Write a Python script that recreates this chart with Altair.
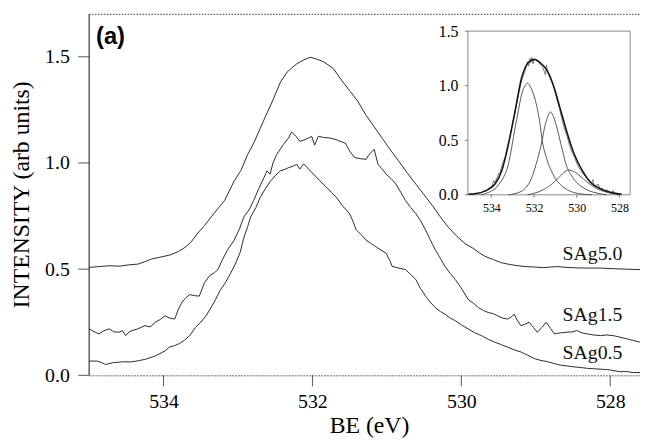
import altair as alt
import pandas as pd

SERIF = "Liberation Serif"
SANS = "Liberation Sans"

# ---------------- main panel data (BE eV, intensity) ----------------
SAG50 = [
    (535.00, 0.508), (534.87, 0.512), (534.73, 0.516), (534.60, 0.514), (534.47, 0.520),
    (534.34, 0.524), (534.25, 0.535), (534.16, 0.548), (534.05, 0.556), (533.92, 0.566),
    (533.80, 0.583), (533.70, 0.605), (533.63, 0.628), (533.54, 0.670), (533.45, 0.705),
    (533.36, 0.746), (533.27, 0.785), (533.18, 0.823), (533.05, 0.916), (532.96, 0.965),
    (532.87, 1.040), (532.78, 1.100), (532.70, 1.164), (532.63, 1.220), (532.56, 1.273),
    (532.49, 1.330), (532.43, 1.381), (532.34, 1.428), (532.27, 1.450), (532.21, 1.467),
    (532.12, 1.485), (532.03, 1.498), (531.95, 1.490), (531.86, 1.478), (531.78, 1.460),
    (531.72, 1.445), (531.61, 1.390), (531.50, 1.340), (531.39, 1.290), (531.28, 1.225),
    (531.17, 1.170), (531.06, 1.115), (530.95, 1.060), (530.84, 1.008), (530.72, 0.950),
    (530.61, 0.900), (530.50, 0.850), (530.39, 0.800), (530.28, 0.745), (530.17, 0.695),
    (530.06, 0.655), (529.95, 0.620), (529.85, 0.600), (529.75, 0.575), (529.68, 0.560),
    (529.57, 0.545), (529.46, 0.530), (529.35, 0.522), (529.24, 0.516), (529.13, 0.512),
    (529.02, 0.510), (528.90, 0.507), (528.80, 0.510), (528.70, 0.512), (528.58, 0.508),
    (528.45, 0.506), (528.30, 0.505), (528.13, 0.505), (527.95, 0.502), (527.80, 0.500),
    (527.60, 0.498),
]

SAG15 = [
    (535.00, 0.219), (534.93, 0.205), (534.87, 0.195), (534.80, 0.210), (534.73, 0.219),
    (534.67, 0.205), (534.60, 0.203), (534.55, 0.210), (534.51, 0.187), (534.46, 0.205),
    (534.42, 0.211), (534.35, 0.218), (534.25, 0.234), (534.18, 0.228), (534.11, 0.250),
    (534.05, 0.262), (533.98, 0.280), (533.92, 0.270), (533.85, 0.265), (533.80, 0.312),
    (533.75, 0.345), (533.70, 0.365), (533.65, 0.380), (533.58, 0.375), (533.52, 0.373),
    (533.45, 0.436), (533.38, 0.470), (533.32, 0.482), (533.27, 0.498), (533.21, 0.544),
    (533.14, 0.591), (533.05, 0.637), (532.98, 0.690), (532.92, 0.746), (532.85, 0.780),
    (532.79, 0.823), (532.72, 0.880), (532.65, 0.932), (532.61, 0.963), (532.57, 0.947),
    (532.53, 1.000), (532.48, 1.040), (532.39, 1.087), (532.32, 1.118), (532.28, 1.146),
    (532.22, 1.125), (532.17, 1.102), (532.10, 1.110), (532.05, 1.118), (532.01, 1.125),
    (531.97, 1.084), (531.92, 1.126), (531.85, 1.120), (531.77, 1.118), (531.68, 1.110),
    (531.63, 1.102), (531.56, 1.094), (531.50, 1.056), (531.43, 1.025), (531.35, 1.020),
    (531.28, 1.017), (531.24, 1.040), (531.17, 1.064), (531.12, 0.994), (531.06, 0.970),
    (531.01, 0.947), (530.94, 0.925), (530.88, 0.901), (530.81, 0.860), (530.75, 0.823),
    (530.68, 0.790), (530.61, 0.761), (530.55, 0.730), (530.48, 0.684), (530.42, 0.640),
    (530.35, 0.591), (530.28, 0.550), (530.22, 0.513), (530.15, 0.480), (530.08, 0.451),
    (529.99, 0.405), (529.91, 0.358), (529.84, 0.340), (529.77, 0.319), (529.70, 0.305),
    (529.64, 0.296), (529.57, 0.290), (529.51, 0.280), (529.45, 0.270), (529.38, 0.265),
    (529.33, 0.275), (529.29, 0.288), (529.25, 0.260), (529.20, 0.234), (529.15, 0.240),
    (529.09, 0.250), (529.03, 0.225), (528.98, 0.203), (528.92, 0.225), (528.86, 0.250),
    (528.80, 0.220), (528.75, 0.195), (528.67, 0.200), (528.58, 0.203), (528.50, 0.205),
    (528.45, 0.211), (528.38, 0.200), (528.31, 0.195), (528.22, 0.190), (528.13, 0.187),
    (528.05, 0.190), (527.96, 0.187), (527.87, 0.180), (527.78, 0.172), (527.70, 0.165),
    (527.60, 0.156),
]

SAG05 = [
    (535.00, 0.067), (534.89, 0.067), (534.83, 0.060), (534.78, 0.051), (534.72, 0.056),
    (534.67, 0.060), (534.60, 0.062), (534.54, 0.064), (534.45, 0.063), (534.38, 0.066),
    (534.32, 0.070), (534.25, 0.075), (534.19, 0.082), (534.12, 0.090), (534.05, 0.102),
    (533.98, 0.115), (533.92, 0.133), (533.85, 0.140), (533.79, 0.149), (533.72, 0.165),
    (533.65, 0.187), (533.57, 0.226), (533.50, 0.250), (533.43, 0.280), (533.36, 0.320),
    (533.30, 0.358), (533.24, 0.400), (533.17, 0.436), (533.10, 0.480), (533.03, 0.529),
    (532.97, 0.580), (532.92, 0.650), (532.87, 0.700), (532.83, 0.746), (532.76, 0.790),
    (532.70, 0.839), (532.63, 0.880), (532.56, 0.916), (532.50, 0.940), (532.43, 0.963),
    (532.37, 0.970), (532.32, 0.978), (532.26, 0.985), (532.21, 0.994), (532.17, 0.971),
    (532.12, 0.996), (532.06, 0.975), (532.01, 0.955), (531.95, 0.935), (531.90, 0.916),
    (531.81, 0.885), (531.74, 0.860), (531.68, 0.839), (531.60, 0.800), (531.50, 0.761),
    (531.45, 0.720), (531.41, 0.684), (531.34, 0.660), (531.28, 0.637), (531.21, 0.620),
    (531.15, 0.606), (531.08, 0.590), (531.01, 0.575), (530.96, 0.540), (530.93, 0.513),
    (530.84, 0.505), (530.75, 0.498), (530.68, 0.475), (530.61, 0.451), (530.55, 0.410),
    (530.48, 0.373), (530.42, 0.345), (530.35, 0.319), (530.28, 0.300), (530.22, 0.288),
    (530.15, 0.270), (530.08, 0.257), (530.00, 0.238), (529.91, 0.219), (529.82, 0.200),
    (529.73, 0.187), (529.64, 0.170), (529.55, 0.156), (529.46, 0.144), (529.38, 0.133),
    (529.29, 0.120), (529.20, 0.110), (529.11, 0.095), (529.02, 0.079), (528.93, 0.070),
    (528.84, 0.064), (528.75, 0.055), (528.67, 0.048), (528.58, 0.044), (528.49, 0.040),
    (528.40, 0.037), (528.31, 0.033), (528.22, 0.031), (528.13, 0.029), (528.05, 0.027),
    (528.00, 0.025), (527.87, 0.017), (527.78, 0.018), (527.69, 0.013), (527.60, 0.013),
]

LABELS = ["SAg5.0", "SAg1.5", "SAg0.5"]
LABEL_BE = [528.64, 528.64, 528.64]
LABEL_I = [0.541, 0.254, 0.079]
PANEL_LABEL = ["(a)"]

MAIN_X_DOMAIN = [535.0, 527.6]
MAIN_Y_DOMAIN = [0.0, 1.7]
MAIN_X_TICKS = [534, 532, 530, 528]
MAIN_Y_TICKS = [0.0, 0.5, 1.0, 1.5]

# ---------------- inset data ----------------
INSET_X_DOMAIN = [535.1, 527.5]
INSET_Y_DOMAIN = [0.0, 1.5]
INSET_X_TICKS = [534, 532, 530, 528]
INSET_Y_TICKS = [0.0, 0.5, 1.0, 1.5]

INSET_RAW = [
    (535.05, 0.00), (534.95, 0.01), (534.85, 0.00), (534.75, 0.015), (534.65, 0.01),
    (534.55, 0.02), (534.45, 0.02), (534.35, 0.04), (534.25, 0.035), (534.15, 0.06),
    (534.05, 0.065), (533.95, 0.09), (533.90, 0.13), (533.85, 0.11), (533.75, 0.15),
    (533.65, 0.20), (533.60, 0.19), (533.55, 0.24), (533.45, 0.30), (533.35, 0.35),
    (533.25, 0.44), (533.15, 0.52), (533.05, 0.62), (532.95, 0.71), (532.85, 0.80),
    (532.75, 0.90), (532.65, 0.99), (532.55, 1.07), (532.45, 1.12), (532.38, 1.17),
    (532.30, 1.22), (532.25, 1.18), (532.20, 1.25), (532.15, 1.21), (532.10, 1.26),
    (532.05, 1.20), (532.00, 1.25), (531.90, 1.23), (531.80, 1.22), (531.70, 1.19),
    (531.60, 1.17), (531.52, 1.13), (531.47, 1.10), (531.42, 1.19), (531.37, 1.12),
    (531.30, 1.10), (531.20, 1.05), (531.10, 1.00), (531.00, 0.93), (530.90, 0.85),
    (530.80, 0.78), (530.70, 0.70), (530.60, 0.62), (530.50, 0.56), (530.40, 0.50),
    (530.30, 0.43), (530.20, 0.38), (530.10, 0.34), (530.00, 0.29), (529.90, 0.25),
    (529.80, 0.22), (529.70, 0.19), (529.60, 0.17), (529.50, 0.14), (529.40, 0.13),
    (529.30, 0.11), (529.25, 0.14), (529.20, 0.09), (529.10, 0.08), (529.00, 0.10),
    (528.90, 0.05), (528.80, 0.06), (528.70, 0.03), (528.60, 0.05), (528.50, 0.03),
    (528.40, 0.01), (528.30, 0.04), (528.20, 0.01), (528.10, 0.00),
]

INSET_ENVELOPE = [
    (535.08, 0.005), (534.70, 0.012), (534.43, 0.025), (534.10, 0.055), (533.82, 0.101),
    (533.51, 0.222), (533.20, 0.464), (532.89, 0.766), (532.59, 1.068), (532.43, 1.160),
    (532.28, 1.210), (532.10, 1.235), (531.95, 1.240), (531.82, 1.228), (531.60, 1.190),
    (531.36, 1.129), (531.20, 1.060), (531.05, 0.977), (530.74, 0.766), (530.43, 0.555),
    (530.12, 0.374), (529.74, 0.222), (529.36, 0.116), (528.90, 0.056), (528.28, 0.016),
    (527.90, 0.005),
]

INSET_G1 = [
    (534.50, 0.000), (534.28, 0.011), (534.05, 0.030), (533.82, 0.056), (533.60, 0.110),
    (533.43, 0.161), (533.20, 0.283), (533.05, 0.433), (532.89, 0.615), (532.74, 0.766),
    (532.59, 0.917), (532.45, 0.990), (532.31, 1.023), (532.15, 0.980), (531.97, 0.887),
    (531.85, 0.790), (531.74, 0.675), (531.59, 0.464), (531.45, 0.360), (531.36, 0.300),
    (531.20, 0.225), (531.05, 0.165), (530.80, 0.100), (530.59, 0.065), (530.30, 0.032),
    (529.97, 0.014), (529.60, 0.004), (529.30, 0.000),
]

INSET_G2 = [
    (533.20, 0.000), (532.89, 0.011), (532.43, 0.056), (532.13, 0.147), (531.90, 0.283),
    (531.66, 0.464), (531.51, 0.615), (531.37, 0.710), (531.23, 0.760), (531.10, 0.720),
    (530.97, 0.645), (530.74, 0.464), (530.51, 0.283), (530.20, 0.161), (529.74, 0.071),
    (529.40, 0.035), (529.05, 0.016), (528.60, 0.000),
]

INSET_G3 = [
    (532.30, 0.000), (531.82, 0.025), (531.36, 0.071), (530.89, 0.147), (530.60, 0.205),
    (530.38, 0.228), (530.15, 0.215), (529.97, 0.192), (529.51, 0.116), (529.05, 0.056),
    (528.43, 0.016), (528.00, 0.000),
]

# ---------------- layout ----------------
W, H = 557, 365
INSET_LEFT, INSET_RIGHT = 383, 547
INSET_BOTTOM, INSET_TOP = 182.5, 17
MAIN_TICK = 11
INSET_TICK = 3


def frame(name, pairs):
    return pd.DataFrame({
        "series": name,
        "be": [p[0] for p in pairs],
        "i": [p[1] for p in pairs],
    })


main_df = pd.concat([
    frame("SAg5.0", SAG50),
    frame("SAg1.5", SAG15),
    frame("SAg0.5", SAG05),
], ignore_index=True)

labels_df = pd.DataFrame({"text": LABELS, "be": LABEL_BE, "i": LABEL_I})

mx = alt.X(
    "be:Q",
    scale=alt.Scale(domain=MAIN_X_DOMAIN, zero=False, nice=False),
    axis=alt.Axis(
        orient="bottom", values=MAIN_X_TICKS, format="d", grid=False,
        tickSize=MAIN_TICK, tickOpacity=0, labelPadding=6,
        labelFont=SERIF, labelFontSize=20, labelColor="black",
        domainColor="dimgray", domainWidth=1, domainDash=[2, 1],
        title="BE (eV)", titleFont=SERIF, titleFontSize=24, titleFontWeight="normal",
        titleColor="black", titleX=283, titleY=58, titleBaseline="alphabetic",
        titleAlign="center",
    ),
)
my = alt.Y(
    "i:Q",
    scale=alt.Scale(domain=MAIN_Y_DOMAIN, zero=False, nice=False),
    axis=alt.Axis(
        orient="left", values=MAIN_Y_TICKS, format=".1f", grid=False,
        tickSize=MAIN_TICK, tickOpacity=0, labelPadding=9,
        labelFont=SERIF, labelFontSize=20, labelColor="black",
        domainOpacity=0,
        title="INTENSITY (arb units)", titleFont=SERIF, titleFontSize=24,
        titleFontWeight="normal", titleColor="black", titleAngle=270,
        titleX=-68, titleY=182, titleBaseline="middle", titleAlign="center",
    ),
)

curves = alt.Chart(main_df).mark_line(color="#2a2a2a", strokeWidth=1).encode(
    x=mx, y=my, detail="series:N"
)
curve_labels = alt.Chart(labels_df).mark_text(
    align="left", baseline="alphabetic", font=SERIF, fontSize=20, color="#111"
).encode(x=mx, y=my, text="text:N")

# tick marks and left axis line drawn as rect-based marks through the scales
y_ticks = alt.Chart(pd.DataFrame({"i": MAIN_Y_TICKS})).mark_tick(
    orient="horizontal", size=MAIN_TICK, thickness=1, color="#555", opacity=1
).encode(y=my, x=alt.value(-MAIN_TICK / 2))
x_ticks = alt.Chart(pd.DataFrame({"be": MAIN_X_TICKS})).mark_tick(
    orient="vertical", size=MAIN_TICK, thickness=1, color="#555", opacity=1
).encode(x=mx, y=alt.value(H + MAIN_TICK / 2))
y_axis_line = alt.Chart(pd.DataFrame({"k": [0]})).mark_rect(color="#222").encode(
    x=alt.value(-0.5), x2=alt.value(0.6), y=alt.value(0), y2=alt.value(H)
)

top_border = alt.Chart(pd.DataFrame({"k": [0]})).mark_rule(
    color="#333", strokeDash=[1.5, 1.5], strokeWidth=1
).encode(x=alt.value(0), x2=alt.value(W), y=alt.value(0))

panel_label = alt.Chart(pd.DataFrame({"t": PANEL_LABEL})).mark_text(
    align="left", baseline="alphabetic", font=SANS, fontSize=24,
    fontWeight="bold", color="#000"
).encode(x=alt.value(7), y=alt.value(30.5), text="t:N")

main = alt.layer(curves, curve_labels, y_ticks, x_ticks, y_axis_line,
                 top_border, panel_label)

# ---------------- inset ----------------
ix = alt.X(
    "be:Q",
    scale=alt.Scale(domain=INSET_X_DOMAIN, range=[INSET_LEFT, INSET_RIGHT],
                    zero=False, nice=False),
    axis=alt.Axis(
        orient="bottom", offset=-(H - INSET_BOTTOM), values=INSET_X_TICKS,
        format="d", grid=False, tickSize=INSET_TICK, tickOpacity=0,
        labelPadding=5, labelFont=SERIF, labelFontSize=12, labelColor="black",
        domainOpacity=0, title=None,
    ),
)
iy = alt.Y(
    "i:Q",
    scale=alt.Scale(domain=INSET_Y_DOMAIN, range=[INSET_BOTTOM, INSET_TOP],
                    zero=False, nice=False),
    axis=alt.Axis(
        orient="left", offset=-INSET_LEFT, values=INSET_Y_TICKS, format=".1f",
        grid=False, tickSize=INSET_TICK, tickOpacity=0, labelPadding=7,
        labelFont=SERIF, labelFontSize=16, labelColor="black",
        domainOpacity=0, title=None,
    ),
)

box_df = pd.DataFrame({
    "be": [INSET_X_DOMAIN[0]], "be2": [INSET_X_DOMAIN[1]],
    "i": [INSET_Y_DOMAIN[0]], "i2": [INSET_Y_DOMAIN[1]],
})
inset_box = alt.Chart(box_df).mark_rect(
    fill="white", stroke="#888", strokeWidth=1
).encode(x=ix, x2="be2:Q", y=iy, y2="i2:Q")

inset_y_ticks = alt.Chart(pd.DataFrame({"i": INSET_Y_TICKS})).mark_tick(
    orient="horizontal", size=INSET_TICK, thickness=1, color="#777", opacity=1
).encode(y=iy, x=alt.value(INSET_LEFT - INSET_TICK / 2))
inset_x_ticks = alt.Chart(pd.DataFrame({"be": INSET_X_TICKS})).mark_tick(
    orient="vertical", size=INSET_TICK, thickness=1, color="#777", opacity=1
).encode(x=ix, y=alt.value(INSET_BOTTOM + INSET_TICK / 2))

comp_df = pd.concat([
    frame("G1", INSET_G1), frame("G2", INSET_G2), frame("G3", INSET_G3)
], ignore_index=True)

inset_raw = alt.Chart(frame("raw", INSET_RAW)).mark_line(
    color="#6a6a6a", strokeWidth=0.9
).encode(x=ix, y=iy)
inset_comps = alt.Chart(comp_df).mark_line(
    color="#444", strokeWidth=0.9, interpolate="monotone"
).encode(x=ix, y=iy, detail="series:N")
inset_env = alt.Chart(frame("env", INSET_ENVELOPE)).mark_line(
    color="#111", strokeWidth=1.5, interpolate="monotone"
).encode(x=ix, y=iy)

inset = alt.layer(inset_box, inset_y_ticks, inset_x_ticks,
                  inset_comps, inset_raw, inset_env)

chart = alt.layer(main, inset).resolve_scale(
    x="independent", y="independent"
).properties(
    width=W, height=H,
    autosize=alt.AutoSizeParams(type="none"),
    padding={"left": 82, "top": 4, "right": 0, "bottom": 63},
    background="white",
).configure_view(stroke="transparent")

chart.save("out.html", embed_options={"renderer": "svg", "actions": False})
